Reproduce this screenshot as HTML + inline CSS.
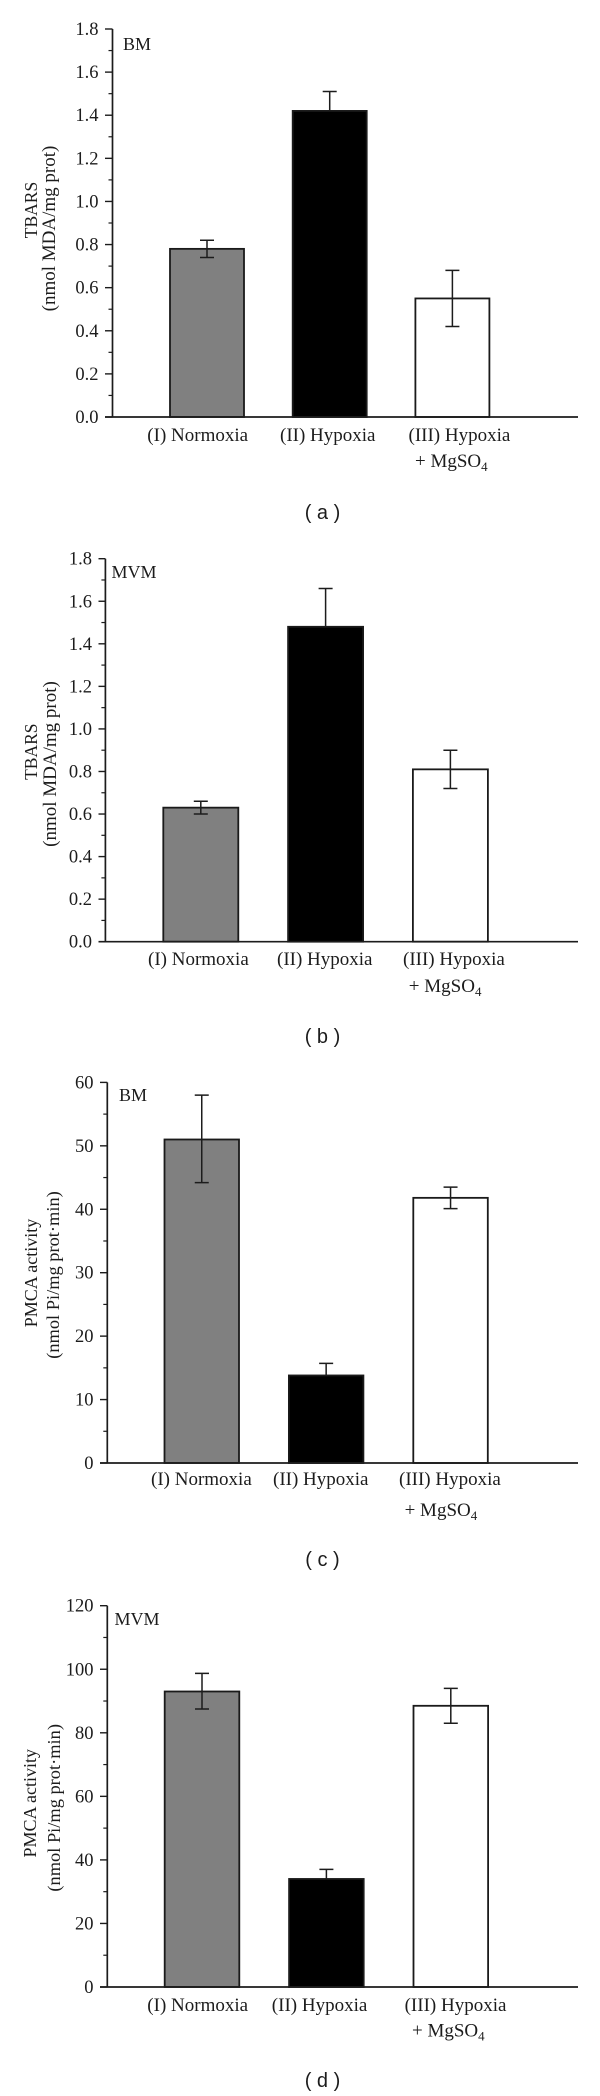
<!DOCTYPE html>
<html>
<head>
<meta charset="utf-8">
<style>
html,body{margin:0;padding:0;background:#fff;}
svg{display:block;}
text{font-family:"Liberation Serif",serif;fill:#1c1c1c;}
.cap{font-family:"Liberation Sans",sans-serif;font-size:20px;}
</style>
</head>
<body>
<svg id="fig" width="600" height="2096" viewBox="0 0 600 2096" xmlns="http://www.w3.org/2000/svg"></svg>
<script>
const categories = ['(I) Normoxia', '(II) Hypoxia', '(III) Hypoxia'];
const barFills = ['#808080', '#000000', '#ffffff'];

const tbarsTicks = ['0.0', '0.2', '0.4', '0.6', '0.8', '1.0', '1.2', '1.4', '1.6', '1.8'];
const pmcaBmTicks = ['0', '10', '20', '30', '40', '50', '60'];
const pmcaMvmTicks = ['0', '20', '40', '60', '80', '100', '120'];

const aValues = [0.78, 1.42, 0.55];
const aErrLow = [0.74, 1.42, 0.42];
const aErrHigh = [0.82, 1.51, 0.68];

const bValues = [0.63, 1.48, 0.81];
const bErrLow = [0.60, 1.48, 0.72];
const bErrHigh = [0.66, 1.66, 0.90];

const cValues = [51, 13.8, 41.8];
const cErrLow = [44.2, 13.8, 40.1];
const cErrHigh = [58, 15.7, 43.5];

const dValues = [93, 34, 88.5];
const dErrLow = [87.5, 34, 83];
const dErrHigh = [98.7, 37, 94];

const NS = 'http://www.w3.org/2000/svg';
const svg = document.getElementById('fig');
const INK = '#1c1c1c';

function make(parent, tag, attrs, txt) {
  const el = document.createElementNS(NS, tag);
  for (const k in attrs) el.setAttribute(k, attrs[k]);
  if (txt !== undefined) el.textContent = txt;
  parent.appendChild(el);
  return el;
}

function drawPanel(p) {
  const g = make(svg, 'g', {});
  
  

  const maxV = parseFloat(p.ticks[p.ticks.length - 1]);
  const yScale = v => p.base + (p.top - p.base) * v / maxV;
  const xBar = i => p.barStart + i * p.barStep;

  p.values.forEach((v, i) => {
    const bar = make(g, 'rect', {
      x: xBar(i), y: yScale(v), width: p.barWidth, height: p.base - yScale(v),
      fill: barFills[i], stroke: '#1a1a1a', 'stroke-width': 1.8
    });
    
    

    const cx = xBar(i) + p.barWidth / 2;
    const eb = make(g, 'path', {
      d: 'M' + cx + ' ' + yScale(p.low[i]) + 'V' + yScale(p.high[i]) +
         'M' + (cx - 7) + ' ' + yScale(p.high[i]) + 'H' + (cx + 7) +
         (p.low[i] < v ? 'M' + (cx - 7) + ' ' + yScale(p.low[i]) + 'H' + (cx + 7) : ''),
      fill: 'none', stroke: INK, 'stroke-width': 1.5
    });
    
    
  });

  const yAxis = make(g, 'line', { x1: p.axisX, x2: p.axisX, y1: p.top, y2: p.base, stroke: INK, 'stroke-width': 1.7 });
  
  

  const xAxis = make(g, 'line', { x1: p.tickLeft, x2: 578, y1: p.base, y2: p.base, stroke: INK, 'stroke-width': 1.7 });
  
  

  p.ticks.forEach((t, i) => {
    const v = parseFloat(t);
    const tick = make(g, 'line', { x1: p.tickLeft, x2: p.axisX, y1: yScale(v), y2: yScale(v), stroke: INK, 'stroke-width': 1.4 });
    
    

    const label = make(g, 'text', { x: p.tickLeft - 6.5, y: yScale(v) + 6, 'text-anchor': 'end', 'font-size': 18.5 }, t);
    
    

    if (i < p.ticks.length - 1) {
      const next = parseFloat(p.ticks[i + 1]);
      const my = yScale((v + next) / 2);
      const minor = make(g, 'line', { x1: p.axisX - 4, x2: p.axisX, y1: my, y2: my, stroke: INK, 'stroke-width': 1.2 });
      
      
    }
  });

  categories.forEach((c, i) => {
    const label = make(g, 'text', { x: p.catX[i], y: p.catY, 'font-size': 19 }, c);
    
    
  });

  const mg = make(g, 'text', { x: p.mgX, y: p.mgY, 'font-size': 19 }, '+ MgSO');
  
  
  make(mg, 'tspan', { dy: 4, 'font-size': 13 }, '4');

  const t1 = make(g, 'text', {
    'text-anchor': 'middle', 'font-size': p.title1Size,
    transform: 'translate(' + p.title1X + ' ' + p.title1Y + ') rotate(-90)'
  }, p.title1);
  
  

  const t2 = make(g, 'text', {
    'text-anchor': 'middle', 'font-size': p.title2Size,
    transform: 'translate(' + p.title2X + ' ' + p.title2Y + ') rotate(-90)'
  }, p.title2);
  
  

  const tag = make(g, 'text', { x: p.tagX, y: p.tagY, 'font-size': 18 }, p.tag);
  
  

  const cap = make(g, 'text', { x: 322.5, y: p.capY, 'text-anchor': 'middle', class: 'cap' }, '( ' + p.id + ' )');
  
  
}

drawPanel({
  id: 'a', ticks: tbarsTicks, values: aValues, low: aErrLow, high: aErrHigh,
  top: 29, base: 417, axisX: 112.5, tickLeft: 105,
  barStart: 170, barStep: 122.7, barWidth: 74,
  catX: [147.3, 280, 408.5], catY: 441, mgX: 415, mgY: 467,
  title1: 'TBARS', title1Size: 17.5, title1X: 37, title1Y: 210,
  title2: '(nmol MDA/mg prot)', title2Size: 19, title2X: 55, title2Y: 228.5,
  tag: 'BM', tagX: 123, tagY: 50, capY: 519
});

drawPanel({
  id: 'b', ticks: tbarsTicks, values: bValues, low: bErrLow, high: bErrHigh,
  top: 558.7, base: 941.7, axisX: 105.4, tickLeft: 98.5,
  barStart: 163.3, barStep: 124.8, barWidth: 75,
  catX: [148, 277, 403], catY: 965, mgX: 408.8, mgY: 992,
  title1: 'TBARS', title1Size: 17.5, title1X: 37, title1Y: 751.7,
  title2: '(nmol MDA/mg prot)', title2Size: 19, title2X: 56, title2Y: 764,
  tag: 'MVM', tagX: 111.5, tagY: 578, capY: 1043
});

drawPanel({
  id: 'c', ticks: pmcaBmTicks, values: cValues, low: cErrLow, high: cErrHigh,
  top: 1082.4, base: 1463, axisX: 107.3, tickLeft: 100,
  barStart: 164.5, barStep: 124.4, barWidth: 74.5,
  catX: [151, 273, 399], catY: 1485, mgX: 404.6, mgY: 1516,
  title1: 'PMCA activity', title1Size: 18, title1X: 37, title1Y: 1273,
  title2: '(nmol Pi/mg prot\u00b7min)', title2Size: 18.4, title2X: 59, title2Y: 1275,
  tag: 'BM', tagX: 119, tagY: 1101, capY: 1566
});

drawPanel({
  id: 'd', ticks: pmcaMvmTicks, values: dValues, low: dErrLow, high: dErrHigh,
  top: 1605.7, base: 1987, axisX: 107.3, tickLeft: 100,
  barStart: 164.7, barStep: 124.4, barWidth: 74.6,
  catX: [147.3, 271.8, 404.6], catY: 2011, mgX: 412, mgY: 2036.5,
  title1: 'PMCA activity', title1Size: 18, title1X: 36, title1Y: 1803.3,
  title2: '(nmol Pi/mg prot\u00b7min)', title2Size: 18.4, title2X: 60, title2Y: 1807.8,
  tag: 'MVM', tagX: 114.5, tagY: 1625, capY: 2087
});
</script>
</body>
</html>
